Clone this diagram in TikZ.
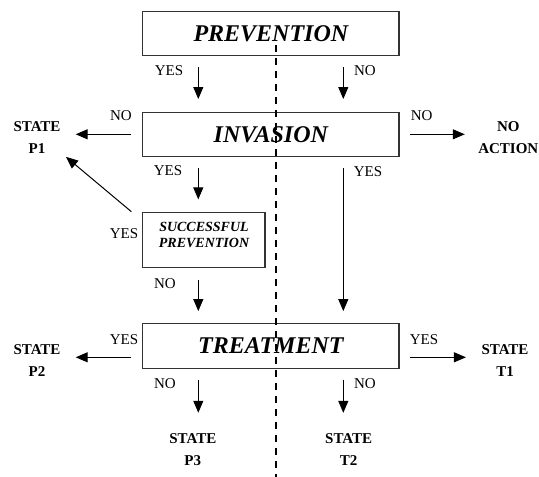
\documentclass[tikz,border=0pt]{standalone}
\usepackage{fontspec}
\setmainfont{Liberation Serif}
\usetikzlibrary{arrows.meta}
\begin{document}
\begin{tikzpicture}[x=1pt,y=-1pt,
  bigbox/.style={draw=black!80, line width=1.2pt, minimum width=256.3pt, minimum height=44pt, inner sep=0pt, font=\fontsize{24}{28}\selectfont\bfseries\itshape},
  smallbox/.style={draw=black!80, line width=1.2pt, minimum width=122.3pt, minimum height=55pt, inner sep=0pt},
  sptext/.style={align=center, inner sep=0pt, font=\fontsize{14}{15.6}\selectfont\bfseries\itshape},
  lab/.style={inner sep=0pt, font=\fontsize{15}{18}\selectfont},
  statebox/.style={inner sep=0pt, align=center, font=\fontsize{15}{22}\selectfont\bfseries},
  arr/.style={line width=1pt, -{Triangle[length=12pt,width=10pt]}},
  divider/.style={line width=2.3pt, dash pattern=on 7pt off 6pt}
]
\useasboundingbox (0,0) rectangle (539,477);

% boxes
\node[bigbox] (prev) at (270.85,33.7) {PREVENTION};
\node[bigbox] (inv) at (270.85,134.3) {INVASION};
\node[bigbox, minimum height=45pt] (treat) at (270.85,345.8) {TREATMENT};
\node[smallbox] (sp) at (203.85,239.8) {};
\node[sptext] (spt) at (204,235) {SUCCESSFUL\\PREVENTION};

% states
\node[statebox] (p1) at (37,137.7) {STATE\\P1};
\node[statebox] (noact) at (508.3,137.7) {NO\\ACTION};
\node[statebox] (p2) at (37,360.3) {STATE\\P2};
\node[statebox] (t1) at (505,360.3) {STATE\\T1};
\node[statebox] (p3) at (192.8,450) {STATE\\P3};
\node[statebox] (t2) at (348.7,450) {STATE\\T2};

% labels
\node[lab] (y1) at (169,71) {YES};
\node[lab] (n1) at (365,71) {NO};
\node[lab] (n2) at (121,116) {NO};
\node[lab] (n3) at (421.7,116) {NO};
\node[lab] (y2) at (168,171) {YES};
\node[lab] (y3) at (368,171.5) {YES};
\node[lab] (y4) at (124,234) {YES};
\node[lab] (n4) at (165,283.3) {NO};
\node[lab] (y5) at (124,339.3) {YES};
\node[lab] (y6) at (424,339.3) {YES};
\node[lab] (n5) at (165,383.3) {NO};
\node[lab] (n6) at (365,383.3) {NO};

% arrow columns
\coordinate (cl) at (198.3,0);
\coordinate (cr) at (343.3,0);

% arrows
\draw[arr, shorten <=11pt, shorten >=12.7pt] (prev.south -| cl) -- (inv.north -| cl);
\draw[arr, shorten <=11pt, shorten >=12.7pt] (prev.south -| cr) -- (inv.north -| cr);
\draw[arr, shorten <=11pt, shorten >=12.3pt] (inv.south -| cl) -- (sp.north -| cl);
\draw[arr, shorten <=11pt, shorten >=11.6pt] (inv.south -| cr) -- (treat.north -| cr);
\draw[arr, shorten <=11.7pt, shorten >=11.6pt] (sp.south -| cl) -- (treat.north -| cl);
\draw[arr, shorten <=11pt, shorten >=15pt] (inv.west) -- (inv.west -| p1.east);
\draw[arr, shorten <=10.3pt, shorten >=13.3pt] (inv.east) -- (inv.east -| noact.west);
\draw[arr, shorten <=11pt, shorten >=15pt] ([yshift=-11.5pt]treat.west) -- ([yshift=-11.5pt]treat.west -| p2.east);
\draw[arr, shorten <=10.3pt, shorten >=15.4pt] ([yshift=-11.5pt]treat.east) -- ([yshift=-11.5pt]treat.east -| t1.west);
\draw[arr, shorten <=10.7pt, shorten >=21pt] (treat.south -| cl) -- (p3.north -| cl);
\draw[arr, shorten <=10.7pt, shorten >=21pt] (treat.south -| cr) -- (t2.north -| cr);
\draw[arr] ([xshift=-10.7pt]sp.north west) -- ([xshift=5.3pt,yshift=-3pt]p1.south east);

% dashed divider
\draw[divider] (275.7,45) -- (275.7,477);
\end{tikzpicture}
\end{document}
